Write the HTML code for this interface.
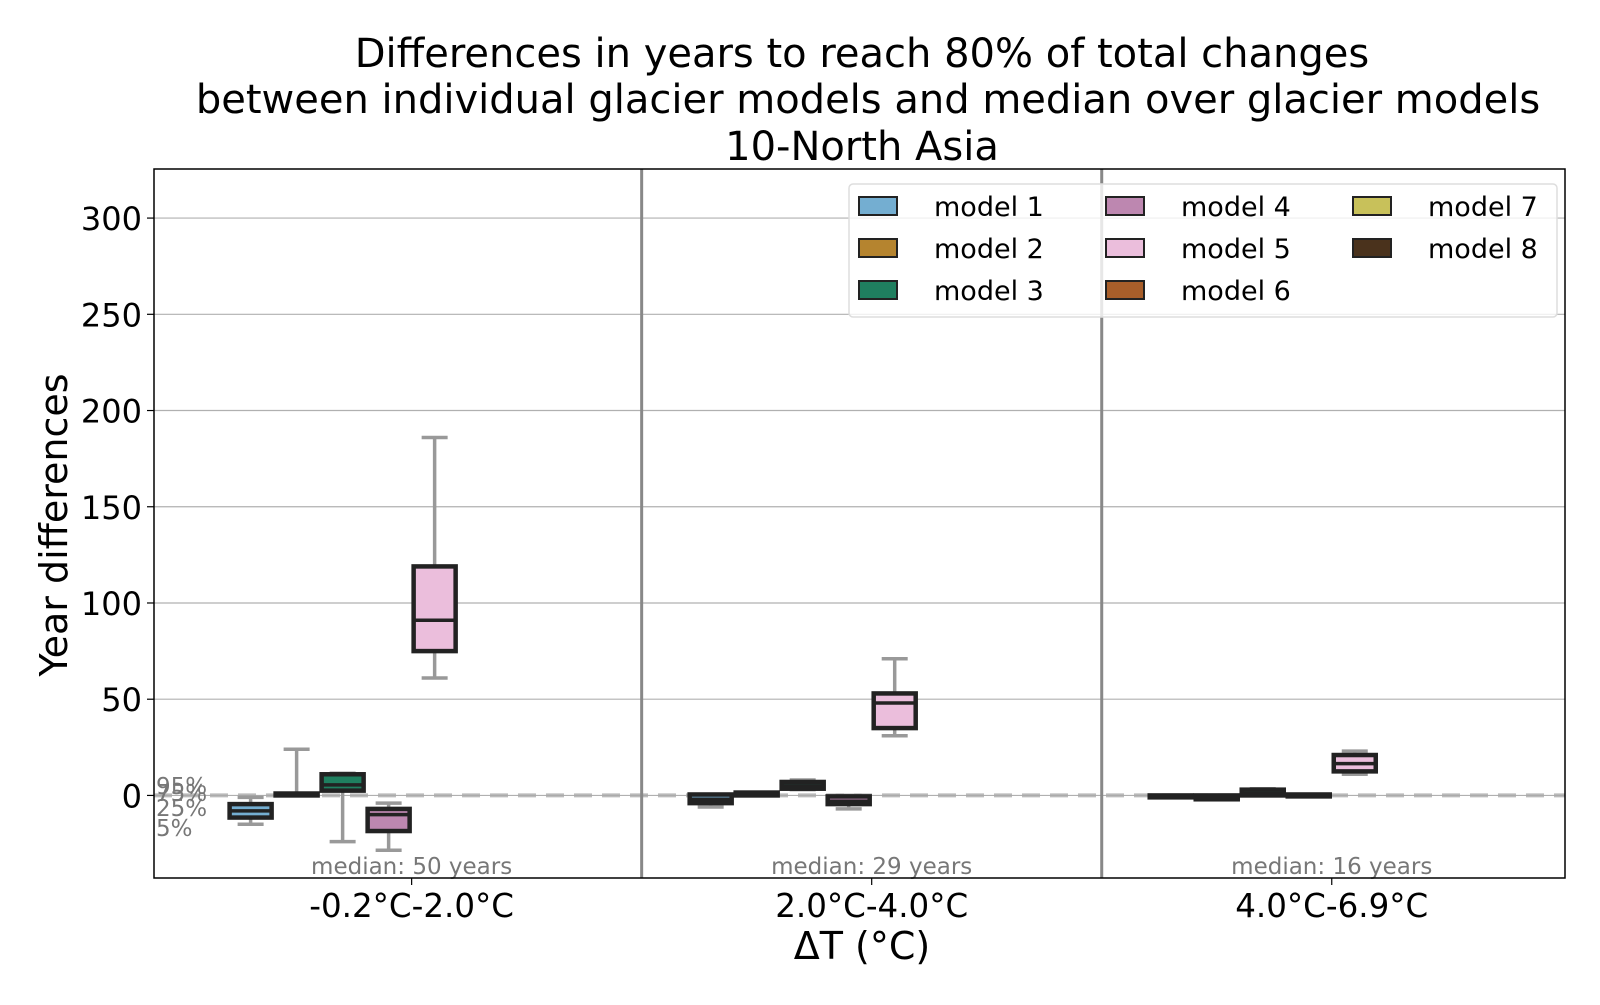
<!DOCTYPE html>
<html><head><meta charset="utf-8"><style>
body{margin:0;background:#fff;}
svg text{font-family:"DejaVu Sans","Liberation Sans",sans-serif;}
</style></head><body>
<svg id="chart" width="1600" height="1000" xmlns="http://www.w3.org/2000/svg">
<rect width="1600" height="1000" fill="#fff"/>
<g font-size="40" text-anchor="middle" fill="#000">
<text x="862" y="67">Differences in years to reach 80% of total changes</text>
<text x="868" y="113">between individual glacier models and median over glacier models</text>
<text x="862" y="160">10-North Asia</text>
</g>
<g id="grid"></g>
<g id="marks"></g>
<g id="axes"></g>
<text x="0" y="0" font-size="38" text-anchor="middle" transform="translate(67,525) rotate(-90)">Year differences</text>
<text x="862" y="959" font-size="38" text-anchor="middle">ΔT (°C)</text>
<g>
<rect x="849" y="184" width="708" height="133" rx="4" fill="#fff" fill-opacity="0.8" stroke="#ddd" stroke-width="1.5"/>
<g id="legend-items"></g>
</g>
</svg>
<script>
const categories=["-0.2°C-2.0°C","2.0°C-4.0°C","4.0°C-6.9°C"];
const medianYears=[50,29,16];
const models=["model 1","model 2","model 3","model 4","model 5","model 6","model 7","model 8"];
const colors=["#74aed1","#b5842f","#1f7f5f","#bd87b0","#ebbedc","#a85e2a","#c8c15a","#4a321c"];
const yTicks=[0,50,100,150,200,250,300];
// per category, per model: [p5, q25, median, q75, p95] ; null = no data
const g1=[[-15,-11.5,-8,-4.5,-1],[0,0,0.5,1,24],[-24,2.5,5.5,11,11.5],[-28.5,-18.5,-10,-7,-4],[61,75,91,119,186],null,null,null];
const g2=[[-6,-4,-2,0.5,0.5],[0,0,0.8,1.5,1.5],[3,3.5,5,7,8],[-7,-4.5,-3,-0.5,0],[31,35,48,53,71],null,null,null];
const g3=[[-1,-1,-0.3,0,0],[-2,-2,-1,0,0],[0,0,1,3,3.5],[-0.5,-0.5,0,0.5,0.5],[11,12.5,16.5,21,23],null,null,null];
const groups=[g1,g2,g3];
const NS="http://www.w3.org/2000/svg";
const L=154,R=1565,T=169,B=878;
const yMin=-42.9,yMax=325.5;
const xMin=-0.56,xMax=2.507;
function ys(v){return B-(v-yMin)/(yMax-yMin)*(B-T);}
function xs(v){return L+(v-xMin)/(xMax-xMin)*(R-L);}
function mk(tag,attrs,parent){const e=document.createElementNS(NS,tag);for(const k in attrs)e.setAttribute(k,attrs[k]);parent.appendChild(e);return e;}
const grid=document.getElementById('grid'),marks=document.getElementById('marks'),axes=document.getElementById('axes');
yTicks.forEach(t=>{
 const ln=mk('line',{x1:L,x2:R,y1:ys(t),y2:ys(t),stroke:'#b0b0b0','stroke-width':1.2},grid);
 
 
 const tk=mk('line',{x1:L-7,x2:L,y1:ys(t),y2:ys(t),stroke:'#000','stroke-width':1.2},axes);
 
 
 const tx=mk('text',{x:L-12,y:ys(t)+12,'font-size':32,'text-anchor':'end'},axes);
 tx.textContent=t;
 
 
});
const zl=mk('line',{x1:L,x2:R,y1:ys(0),y2:ys(0),stroke:'#aaa','stroke-width':4,'stroke-dasharray':'18,10','stroke-opacity':0.8},grid);


[0.5,1.5].forEach(s=>{
 const l=mk('line',{x1:xs(s),x2:xs(s),y1:T,y2:B,stroke:'#888','stroke-width':3},grid);
 
 
});
const step=0.1,bw=0.1;
groups.forEach((g,ci)=>{
 g.forEach((d,mi)=>{
  if(!d)return;
  const cx=xs(ci+(mi-3.5)*step);
  const w=bw*(R-L)/(xMax-xMin);
  const gg=mk('g',{},marks);
  
  
  mk('line',{x1:cx,x2:cx,y1:ys(d[3]),y2:ys(d[4]),stroke:'#999','stroke-width':3.5},gg);
  mk('line',{x1:cx,x2:cx,y1:ys(d[1]),y2:ys(d[0]),stroke:'#999','stroke-width':3.5},gg);
  mk('line',{x1:cx-13,x2:cx+13,y1:ys(d[4]),y2:ys(d[4]),stroke:'#999','stroke-width':3.5},gg);
  mk('line',{x1:cx-13,x2:cx+13,y1:ys(d[0]),y2:ys(d[0]),stroke:'#999','stroke-width':3.5},gg);
  const h=Math.max(ys(d[1])-ys(d[3]),0.1);
  mk('rect',{x:cx-w/2+2,y:ys(d[3]),width:w-4,height:h,fill:colors[mi],stroke:'#222','stroke-width':4.5},gg);
  mk('line',{x1:cx-w/2+2,x2:cx+w/2-2,y1:ys(d[2]),y2:ys(d[2]),stroke:'#222','stroke-width':3.5},gg);
 });
 const mt=mk('text',{x:xs(ci),y:B-4,'font-size':23,'text-anchor':'middle',fill:'#777'},marks);
 mt.textContent='median: '+medianYears[ci]+' years';
 
 
 const tk=mk('line',{x1:xs(ci),x2:xs(ci),y1:B,y2:B+7,stroke:'#000','stroke-width':1.2},axes);
 
 
 const tl=mk('text',{x:xs(ci),y:917,'font-size':32.5,'text-anchor':'middle'},axes);
 tl.textContent=categories[ci];
 
 
});
[["95%",794],["75%",801],["25%",816],["5%",836]].forEach(p=>{
 const t=mk('text',{x:156,y:p[1],'font-size':23,fill:'#777'},marks);
 t.textContent=p[0];
 
 
});
const fr=mk('rect',{x:L,y:T,width:R-L,height:B-T,fill:'none',stroke:'#000','stroke-width':1.5},axes);


const li=document.getElementById('legend-items');
models.forEach((m,i)=>{
 const col=Math.floor(i/3),row=i%3;
 const x=859+col*247,y=206+row*42;
 const gg=mk('g',{},li);
 
 
 mk('rect',{x:x,y:y-9,width:38,height:18,fill:colors[i],stroke:'#222','stroke-width':2},gg);
 const t=mk('text',{x:x+75,y:y+10,'font-size':27},gg);
 t.textContent=m;
});
</script>
</body></html>
